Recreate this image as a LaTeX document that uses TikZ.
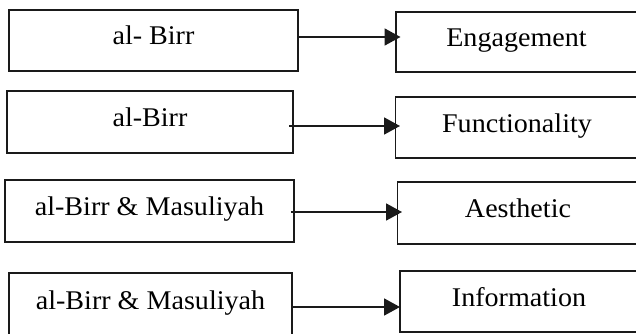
\documentclass[tikz,border=0pt]{standalone}
\usepackage{fontspec}
\setmainfont{Liberation Serif}[FakeStretch=1.04]
\usetikzlibrary{arrows.meta}
\definecolor{ln}{HTML}{1A1A1A}
\tikzset{
  box/.style={draw=ln, line width=1.8pt, inner sep=0pt, outer sep=0pt,
    text height=18pt, text depth=9pt, font=\fontsize{27}{30}\selectfont},
  arr/.style={draw=ln, line width=1.8pt, -{Triangle[length=16pt,width=17pt]}, shorten >=-4.5pt}
}
\begin{document}
\begin{tikzpicture}[x=1pt,y=-1pt]
\useasboundingbox (0,0) rectangle (636,334);
\clip (0,0) rectangle (636,334);
% left boxes
\node[box, minimum width=289pt, minimum height=61pt] (l1) at (153.5,40.5) {al- Birr};
\node[box, minimum width=286pt, minimum height=62pt] (l2) at (150,122) {al-Birr};
\node[box, minimum width=289pt, minimum height=62pt] (l3) at (149.5,211) {al-Birr \& Masuliyah};
\node[box, minimum width=283pt, minimum height=64pt] (l4) at (150.5,305) {al-Birr \& Masuliyah};
% right boxes (right side runs off the picture)
\node[box, minimum width=260pt, minimum height=60pt] (r1) at (526,42) {Engagement\hspace*{19pt}};
\node[box, minimum width=260pt, minimum height=61pt] (r2) at (525.5,127.5) {Functionality\hspace*{17pt}};
\node[box, minimum width=260pt, minimum height=62pt] (r3) at (527.5,213) {Aesthetic\hspace*{19pt}};
\node[box, minimum width=260pt, minimum height=61pt] (r4) at (530,301.5) {Information\hspace*{22pt}};
% arrow levels
\coordinate (y1) at (0,37);
\coordinate (y2) at (0,126);
\coordinate (y3) at (0,212);
\coordinate (y4) at (0,307);
\draw[arr] (l1.east |- y1) -- (r1.west |- y1);
\draw[arr, shorten <=-4pt] (l2.east |- y2) -- (r2.west |- y2);
\draw[arr, shorten <=-3pt] (l3.east |- y3) -- (r3.west |- y3);
\draw[arr, shorten >=0pt] (l4.east |- y4) -- (r4.west |- y4);
\end{tikzpicture}
\end{document}
